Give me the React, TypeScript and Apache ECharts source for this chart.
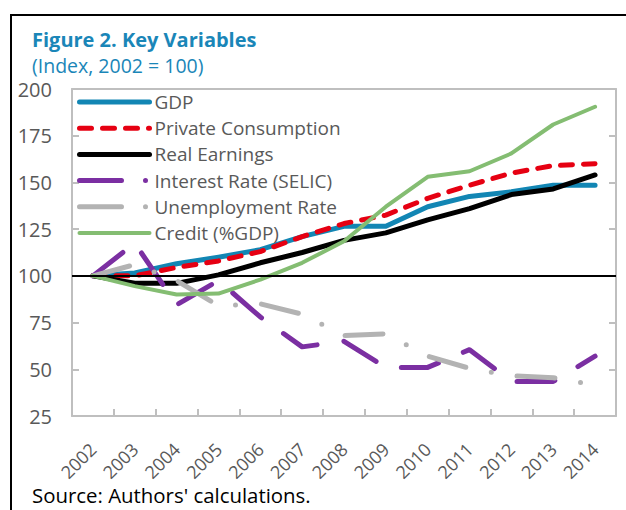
import React, { useEffect, useRef } from 'react';
import * as echarts from 'echarts';

const years = ['2002', '2003', '2004', '2005', '2006', '2007', '2008', '2009', '2010', '2011', '2012', '2013', '2014'];
const gdp = [100, 101.5, 106.5, 110, 114, 121, 126.5, 126.5, 137, 142.5, 145, 148.5, 148.5];
const privateConsumption = [100, 100, 104.5, 108, 113, 121, 128, 132.5, 141.5, 148.5, 155, 159, 160];
const realEarnings = [100, 96, 96, 100.5, 107, 112.5, 119, 123, 130, 136, 143.5, 146.5, 154];
const interestRate = [100, 117.5, 84.5, 97.5, 78, 62, 65, 51, 51, 60.5, 43.5, 43.5, 57];
const unemployment = [100, 106, 97.5, 84, 85, 79.5, 68, 69, 57, 50.5, 46.5, 45.5, 41.5];
const credit = [100, 94.5, 90, 90.5, 98, 107, 118.5, 137, 153, 156, 165.5, 181, 190.5];

const titleText = 'Figure 2. Key Variables';
const subtitleText = '(Index, 2002 = 100)';
const sourceText = "Source: Authors' calculations.";

const FONT = '"Open Sans", sans-serif';
const AXIS_GRAY = '#BFBFBF';
const LABEL_GRAY = '#595959';
const TITLE_BLUE = '#1A86B8';

export default function App() {
  const ref = useRef<HTMLDivElement>(null);
  useEffect(() => {
    const chart = echarts.init(ref.current!, null, { renderer: 'svg' });
    const option: any = {
      animation: false,
      backgroundColor: '#fff',
      grid: { left: 72, right: 10, top: 89, bottom: 94, containLabel: false },
      graphic: [
        {
          type: 'rect',
          shape: { x: 11, y: 15, width: 700, height: 600 },
          style: { fill: 'none', stroke: '#000', lineWidth: 2 },
          silent: true,
        },
        {
          type: 'text', x: 32, y: 39,
          style: { text: titleText, fontSize: 20, fontWeight: 'bold', fontFamily: FONT, fill: TITLE_BLUE, verticalAlign: 'middle', lineHeight: 20 },
        },
        {
          type: 'text', x: 32, y: 65,
          style: { text: subtitleText, fontSize: 19.5, fontFamily: FONT, fill: TITLE_BLUE, verticalAlign: 'middle', lineHeight: 17 },
        },
        {
          type: 'text', x: 32, y: 495,
          style: { text: sourceText, fontSize: 20.4, fontFamily: FONT, fill: '#000', verticalAlign: 'middle', lineHeight: 20 },
        },
      ],
      legend: {
        orient: 'vertical',
        left: 77,
        top: 92,
        padding: 0,
        itemWidth: 70,
        itemHeight: 20,
        itemGap: 6.2,
        textStyle: { fontSize: 19, fontFamily: FONT, color: LABEL_GRAY, lineHeight: 20 },
        lineStyle: { width: 'inherit', type: 'inherit' },
        itemStyle: { opacity: 0 },
        data: [
          { name: 'GDP' },
          { name: 'Private Consumption' },
          { name: 'Real Earnings' },
          { name: 'Interest Rate (SELIC)', lineStyle: { type: [42, 24, 0, 30] } },
          { name: 'Unemployment Rate', lineStyle: { type: [42, 24, 0, 30] } },
          { name: 'Credit (%GDP)' },
        ],
      },
      xAxis: [
        {
          type: 'category',
          data: years,
          boundaryGap: true,
          axisLine: { show: true, lineStyle: { color: AXIS_GRAY, width: 2 } },
          axisTick: { show: true, inside: true, length: 7, interval: 0, lineStyle: { color: AXIS_GRAY, width: 2 } },
          axisLabel: { interval: 0, rotate: 45, margin: 30, fontSize: 18, fontFamily: FONT, color: LABEL_GRAY },
          splitLine: { show: false },
        },
        {
          type: 'category',
          data: years,
          position: 'top',
          boundaryGap: true,
          axisLine: { show: true, lineStyle: { color: AXIS_GRAY, width: 2 } },
          axisTick: { show: false },
          axisLabel: { show: false },
          splitLine: { show: false },
        },
      ],
      yAxis: [
        {
          type: 'value',
          min: 25,
          max: 200,
          interval: 25,
          position: 'left',
          axisLine: { show: true, lineStyle: { color: AXIS_GRAY, width: 2 } },
          axisTick: { show: true, inside: true, length: 7, lineStyle: { color: AXIS_GRAY, width: 2 } },
          axisLabel: { fontSize: 20, fontFamily: FONT, color: LABEL_GRAY, margin: 20, lineHeight: 16 },
          splitLine: { show: false },
        },
        {
          type: 'value',
          min: 25,
          max: 200,
          interval: 25,
          position: 'right',
          axisLine: { show: true, lineStyle: { color: AXIS_GRAY, width: 2 } },
          axisTick: { show: true, inside: true, length: 7, lineStyle: { color: AXIS_GRAY, width: 2 } },
          axisLabel: { show: false },
          splitLine: { show: false },
        },
      ],
      series: [
        {
          name: 'GDP', type: 'line', data: gdp, symbol: 'none',
          itemStyle: { color: '#1286B4' },
          lineStyle: { color: '#1286B4', width: 5, cap: 'round', join: 'round' },
          markLine: {
            silent: true, symbol: 'none', label: { show: false },
            lineStyle: { color: '#000', width: 2, type: 'solid' },
            data: [{ yAxis: 100 }],
          },
        },
        {
          name: 'Private Consumption', type: 'line', data: privateConsumption, symbol: 'none',
          itemStyle: { color: '#E60012' },
          lineStyle: { color: '#E60012', width: 5, type: [12, 11], cap: 'round', join: 'round' },
        },
        {
          name: 'Real Earnings', type: 'line', data: realEarnings, symbol: 'none',
          itemStyle: { color: '#000' },
          lineStyle: { color: '#000', width: 5, cap: 'round', join: 'round' },
        },
        {
          name: 'Interest Rate (SELIC)', type: 'line', data: interestRate, symbol: 'none',
          itemStyle: { color: '#7B2FA2' },
          lineStyle: { color: '#7B2FA2', width: 5, type: [38, 27], cap: 'round', join: 'round' },
        },
        {
          name: 'Unemployment Rate', type: 'line', data: unemployment, symbol: 'none',
          itemStyle: { color: '#B3B3B3' },
          lineStyle: { color: '#B3B3B3', width: 5, type: [38, 26, 0, 26], cap: 'round', join: 'round' },
        },
        {
          name: 'Credit (%GDP)', type: 'line', data: credit, symbol: 'none',
          itemStyle: { color: '#84BD72' },
          lineStyle: { color: '#84BD72', width: 4, cap: 'round', join: 'round' },
        },
      ],
    };
    chart.setOption(option);
    return () => chart.dispose();
  }, []);
  return <div ref={ref} style={{ position: 'fixed', left: 0, top: 0, width: 626, height: 510 }} />;
}
